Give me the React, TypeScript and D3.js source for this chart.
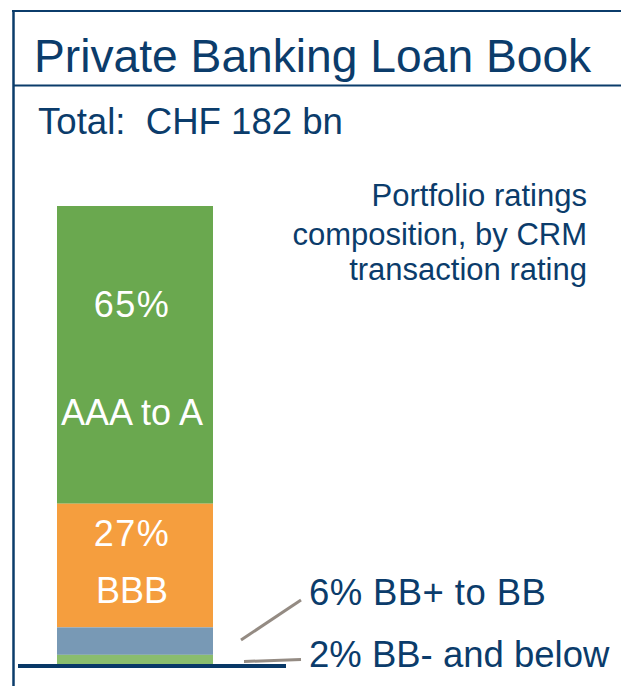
import React from "react";
import * as d3 from "d3";

const ratings = ["AAA to A", "BBB", "BB+ to BB", "BB- and below"];
const shares = [65, 27, 6, 2];
const titleText = "Private Banking Loan Book";
const totalText = "Total:\u00a0\u00a0CHF 182 bn";
const noteLines = ["Portfolio ratings", "composition, by CRM", "transaction rating"];

const segColors = ["#6aa84f", "#f59e3e", "#7899b5", "#8abd6d"];
const NAVY = "#0b3c6b";
const FONT = "'Liberation Sans', Arial, Helvetica, sans-serif";

export default function App() {
  const W = 621, H = 686;
  const y = d3.scaleLinear().domain([0, 100]).range([664, 206]);
  const row: Record<string, number> = {};
  ratings.forEach((r, i) => (row[r] = shares[i]));
  const series = d3
    .stack<Record<string, number>>()
    .keys(ratings)
    .order(d3.stackOrderReverse)([row]);
  const bx0 = 57, bx1 = 213;
  const cx = (bx0 + bx1) / 2 - 3;

  // inside-label offsets from segment top (layout only)
  const inside = [
    { pct: 111, name: 219 },
    { pct: 42, name: 99 },
  ];

  return (
    <svg width={W} height={H} style={{ position: "absolute", left: 0, top: 0, display: "block" }}
      fontFamily={FONT}>
      <rect x={0} y={0} width={W} height={H} fill="#ffffff" />
      {/* frame */}
      <line x1={12} x2={W} y1={11} y2={11} stroke={NAVY} strokeWidth={2} />
      <line x1={13} x2={W} y1={85.5} y2={85.5} stroke={NAVY} strokeWidth={2} />
      <line x1={13.5} x2={13.5} y1={10} y2={H} stroke={NAVY} strokeWidth={2.5} />

      <text x={34} y={72} fontSize={46.2} fill={NAVY}>{titleText}</text>
      <text x={38} y={134} fontSize={36.6} fill={NAVY}>{totalText}</text>

      {noteLines.map((t, i) => (
        <text key={t} x={587} y={[206, 245, 280][i]} fontSize={31} fill={NAVY} textAnchor="end">{t}</text>
      ))}

      {series.map((s) => {
        const i = ratings.indexOf(s.key);
        const top = y(s[0][1]);
        const bot = y(s[0][0]);
        return (
          <rect key={s.key} x={bx0} width={bx1 - bx0} y={top} height={bot - top} fill={segColors[i]} />
        );
      })}

      {series
        .filter((s) => ratings.indexOf(s.key) < 2)
        .map((s) => {
          const i = ratings.indexOf(s.key);
          const top = y(s[0][1]);
          return (
            <g key={"lbl" + s.key} fill="#ffffff" fontSize={36} textAnchor="middle">
              <text x={cx} y={top + inside[i].pct} letterSpacing={1.5}>{shares[i]}%</text>
              <text x={cx} y={top + inside[i].name}>{ratings[i]}</text>
            </g>
          );
        })}

      {/* leader lines for small segments */}
      <line x1={241} y1={640} x2={301} y2={600} stroke="#948b83" strokeWidth={3} />
      <line x1={244} y1={661.5} x2={301} y2={659.5} stroke="#948b83" strokeWidth={3} />
      <text x={309} y={605} fontSize={36.5} fill={NAVY} letterSpacing={0.4}>{shares[2]}% {ratings[2]}</text>
      <text x={309} y={667} fontSize={36.5} fill={NAVY}>{shares[3]}% {ratings[3]}</text>

      {/* baseline */}
      <line x1={18} x2={286} y1={y(0) + 2} y2={y(0) + 2} stroke="#083867" strokeWidth={4} />
    </svg>
  );
}
